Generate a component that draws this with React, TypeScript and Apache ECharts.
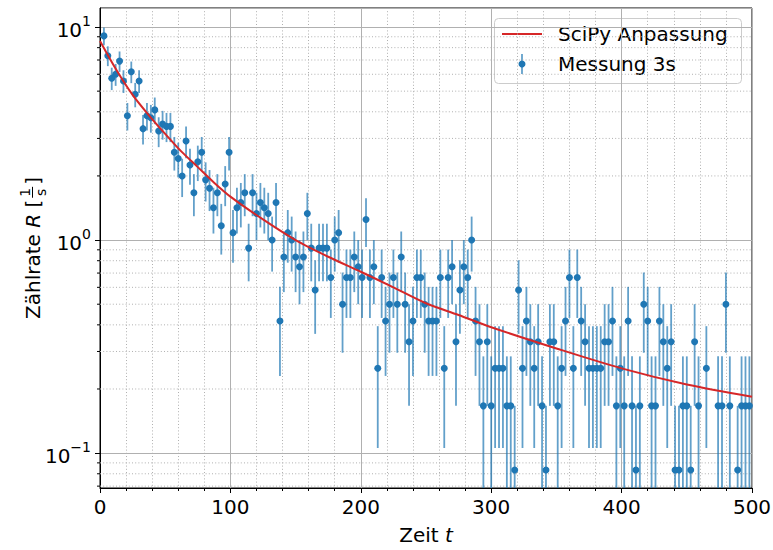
import React, { useEffect, useRef } from 'react';
import * as echarts from 'echarts';

const rateCounts = [
  109, 88, 69, 72, 83, 67, 46, 74, 58, 67,
  40, 46, 45, 49, 39, 42, 41, 41, 31, 29,
  24, 35, 27, 20, 28, 31, 23, 21, 17, 20,
  14, 22, 31, 13, 17, 18, 20, 11, 20, 16,
  18, 17, 16, 12, 18, 5, 10, 13, 12, 10,
  9, 10, 16, 11, 7, 11, 11, 11, 8, 12,
  13, 6, 8, 8, 10, 9, 8, 15, 8, 9,
  3, 8, 5, 6, 8, 6, 10, 6, 4, 5,
  8, 8, 6, 5, 5, 5, 8, 3, 8, 9,
  4, 7, 9, 8, 12, 5, 4, 2, 4, 2,
  3, 3, 3, 2, 2, 1, 7, 3, 5, 4,
  3, 4, 2, 1, 4, 4, 2, 3, 5, 8,
  3, 8, 5, 4, 3, 3, 3, 3, 4, 4,
  5, 2, 3, 2, 5, 2, 1, 2, 6, 5,
  2, 2, 5, 4, 3, 4, 1, 1, 2, 2,
  1, 4, 2, 0, 3, 0, 0, 2, 2, 6,
  2, 0, 1, 2, 2, 2, 3,
];
const countNormalization = 12;
const measureStep = 3;

// SciPy fit curve
const fitTimes = [0, 12.5, 25, 37.5, 50, 62.5, 75, 87.5, 100, 125, 150, 175, 200, 225, 250, 275, 300, 350, 400, 450, 500];
const fitRates = [8.6, 6.3, 4.8, 3.85, 3.15, 2.6, 2.2, 1.86, 1.6, 1.25, 1.0, 0.835, 0.71, 0.6, 0.505, 0.445, 0.39, 0.31, 0.25, 0.21, 0.184];

const xMin = 0;
const xMax = 500;
const xInterval = 100;
const yMin = 0.0686;
const yMax = 12.28;
const yMinorTicks = [0.07, 0.08, 0.09, 0.2, 0.3, 0.4, 0.5, 0.6, 0.7, 0.8, 0.9, 2, 3, 4, 5, 6, 7, 8, 9];

const legendLabels = ['SciPy Anpassung', 'Messung 3s'];
const xLabel = 'Zeit ';
const xLabelItalic = 't';

const FONT = '"DejaVu Sans", sans-serif';
const BLUE = '#1f77b4';
const BLUE_BAR = 'rgba(31,119,180,0.7)';
const RED = '#d62728';
const GRID = '#b0b0b0';

export default function App() {
  const ref = useRef<HTMLDivElement>(null);

  useEffect(() => {
    if (!ref.current) return;
    const chart = echarts.init(ref.current, null, { renderer: 'svg' });

    const times = rateCounts.map((_, i) => (i + 1) * measureStep);
    const points: number[][] = [];
    const bars: number[][] = [];
    rateCounts.forEach((n, i) => {
      if (n <= 0) return;
      const r = n / countNormalization;
      const e = Math.sqrt(n) / countNormalization;
      points.push([times[i], r]);
      bars.push([times[i], r, Math.max(r - e, yMin), Math.min(r + e, yMax)]);
    });
    const fitData = fitTimes.map((t, i) => [t, fitRates[i]]);

    // measure text for the y-axis label
    const cv = document.createElement('canvas').getContext('2d')!;
    const f20 = `20px ${FONT}`;
    const f20i = `italic 20px ${FONT}`;
    const f14 = `14px ${FONT}`;
    const tw = (s: string, f: string) => { cv.font = f; return cv.measureText(s).width; };
    const p1 = 'Zählrate ';
    const p2 = 'R';
    const p3 = ' [';
    const p4 = ']';
    const w1 = tw(p1, f20), w2 = tw(p2, f20i), w3 = tw(p3, f20), w4 = tw(p4, f20);
    const fw = Math.max(tw('1', f14), tw('s', f14)) + 6;
    const W = w1 + w2 + w3 + fw + w4;
    let cx = -W / 2;
    const ts = (text: string, x: number, y: number, font: string, align = 'left') => ({
      type: 'text', x, y,
      style: { text, font, fill: '#000', textAlign: align, textVerticalAlign: 'middle', align, verticalAlign: 'middle' },
    });
    const yLabelChildren: any[] = [];
    yLabelChildren.push(ts(p1, cx, 0, f20)); cx += w1;
    yLabelChildren.push(ts(p2, cx, 0, f20i)); cx += w2;
    yLabelChildren.push(ts(p3, cx, 0, f20)); cx += w3;
    yLabelChildren.push(ts('1', cx + fw / 2, -8.5, f14, 'center'));
    yLabelChildren.push({ type: 'line', shape: { x1: cx + 2, y1: -0.5, x2: cx + fw - 2, y2: -0.5 }, style: { stroke: '#000', lineWidth: 1 } });
    yLabelChildren.push(ts('s', cx + fw / 2, 7.5, f14, 'center'));
    cx += fw;
    yLabelChildren.push(ts(p4, cx, 0, f20));

    const option: any = {
      animation: false,
      backgroundColor: '#fff',
      grid: {
        left: 100, right: 21, top: 8, bottom: 62,
        show: true, borderColor: '#000', borderWidth: 1, backgroundColor: 'transparent',
        outerBoundsMode: 'none', containLabel: false,
      },
      xAxis: {
        type: 'value', min: xMin, max: xMax, interval: xInterval,
        name: `{n|${xLabel}}{i|${xLabelItalic}}`,
        nameLocation: 'middle', nameGap: 37,
        nameTextStyle: {
          rich: {
            n: { fontSize: 20, fontFamily: FONT, color: '#000' },
            i: { fontSize: 20, fontFamily: FONT, fontStyle: 'italic', color: '#000' },
          },
        },
        axisLine: { show: true, onZero: false, lineStyle: { color: '#000', width: 1 } },
        axisTick: { show: true, length: 5, lineStyle: { color: '#000', width: 1 } },
        minorTick: { show: true, splitNumber: 5, length: 3, lineStyle: { color: '#000', width: 1 } },
        axisLabel: { fontSize: 20, fontFamily: FONT, color: '#000', margin: 9 },
        splitLine: { show: true, lineStyle: { color: GRID, width: 1 } },
        minorSplitLine: { show: true, lineStyle: { color: GRID, width: 1, type: [1, 2.2] } },
      },
      yAxis: {
        type: 'log', logBase: 10, min: yMin, max: yMax,
        axisLine: { show: true, onZero: false, lineStyle: { color: '#000', width: 1 } },
        axisTick: { show: true, length: 5, lineStyle: { color: '#000', width: 1 } },
        axisLabel: {
          showMinLabel: false, showMaxLabel: false, margin: 9,
          formatter: (v: number) => {
            const e = Math.round(Math.log10(v));
            return `{b|10}{s|${e < 0 ? '\u2212' + Math.abs(e) : e}}`;
          },
          rich: {
            b: { fontSize: 20, fontFamily: FONT, color: '#000', lineHeight: 26, verticalAlign: 'bottom' },
            s: { fontSize: 14, fontFamily: FONT, color: '#000', lineHeight: 14, verticalAlign: 'top' },
          },
        },
        splitLine: { show: true, lineStyle: { color: GRID, width: 1 } },
      },
      series: [
        {
          type: 'custom', name: 'minorY', silent: true, z: 1,
          data: yMinorTicks.map((v) => [xMin, v]),
          encode: { x: 0, y: 1 },
          renderItem: (_p: any, api: any) => {
            const v = api.value(1);
            const l = api.coord([xMin, v]);
            const r = api.coord([xMax, v]);
            return {
              type: 'group',
              children: [
                { type: 'line', shape: { x1: l[0], y1: l[1], x2: r[0], y2: r[1] }, style: { stroke: GRID, lineWidth: 1, lineDash: [1, 2.2] } },
                { type: 'line', shape: { x1: l[0] - 3, y1: l[1], x2: l[0], y2: l[1] }, style: { stroke: '#000', lineWidth: 1 } },
              ],
            };
          },
        },
        {
          type: 'custom', name: 'errorbars', silent: true, z: 2, clip: true,
          data: bars,
          encode: { x: 0, y: [1, 2, 3] },
          renderItem: (_p: any, api: any) => {
            const t = api.value(0);
            const a = api.coord([t, api.value(2)]);
            const b = api.coord([t, api.value(3)]);
            return { type: 'line', shape: { x1: a[0], y1: a[1], x2: b[0], y2: b[1] }, style: { stroke: BLUE_BAR, lineWidth: 1.8 } };
          },
        },
        {
          type: 'scatter', name: legendLabels[1], z: 3, clip: true,
          data: points, symbol: 'circle', symbolSize: 7,
          itemStyle: { color: BLUE, opacity: 1 },
        },
        {
          type: 'line', name: legendLabels[0], z: 4, data: fitData,
          smooth: 0.3, showSymbol: false, symbol: 'none',
          lineStyle: { color: RED, width: 2 },
        },
      ],
      graphic: [
        { type: 'group', x: 33, y: 248, rotation: Math.PI / 2, children: yLabelChildren },
        {
          type: 'group', z: 100,
          children: [
            { type: 'rect', shape: { x: 494.5, y: 18.5, width: 247, height: 65, r: 4 }, style: { fill: 'rgba(255,255,255,0.8)', stroke: '#cccccc', lineWidth: 1 } },
            { type: 'line', shape: { x1: 502, y1: 34, x2: 542, y2: 34 }, style: { stroke: RED, lineWidth: 2 } },
            ts(legendLabels[0], 558, 34, f20),
            { type: 'line', shape: { x1: 522, y1: 54, x2: 522, y2: 74 }, style: { stroke: BLUE_BAR, lineWidth: 1.8 } },
            { type: 'circle', shape: { cx: 522, cy: 64, r: 3.5 }, style: { fill: BLUE } },
            ts(legendLabels[1], 558, 64, f20),
          ],
        },
      ],
    };

    chart.setOption(option);
    return () => chart.dispose();
  }, []);

  return (
    <div
      ref={ref}
      style={{ position: 'fixed', left: 0, top: 0, width: 773, height: 550, background: '#fff' }}
    />
  );
}
